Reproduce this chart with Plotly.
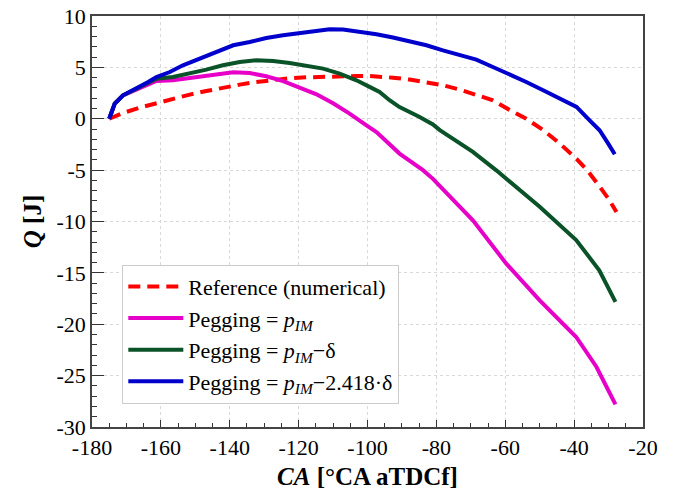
import plotly.graph_objects as go

# ---- data ----
ref_x = [-175, -171, -166.2, -161.3, -156.5, -151.6, -146.8, -142, -137.1, -132.3, -127.4, -122.6,
         -117.7, -112.9, -108.1, -103.2, -99.4, -95, -92.6, -87.8, -82.9, -78.1, -73.2, -68.4,
         -63.6, -58.7, -53.9, -49, -44.2, -39.3, -36, -32.6, -30, -27.7]
ref_y = [0, 0.56, 1.08, 1.53, 1.96, 2.35, 2.7, 3.03, 3.32, 3.58, 3.77, 3.94,
         4.03, 4.1, 4.16, 4.16, 4.16, 4.1, 4.0, 3.81, 3.58, 3.26, 2.84, 2.35,
         1.8, 0.85, 0.0, -1.1, -2.4, -3.9, -5.1, -6.6, -7.8, -9.08]

pim_x = [-175, -173.4, -171, -168.6, -166.2, -163.7, -161.3, -156.5, -151.6, -146.8, -142, -139,
         -134.2, -129.4, -124.5, -119.7, -114.8, -110, -105.2, -100.3, -97.4, -90.7, -83.9, -81,
         -69.4, -59.7, -50, -39.4, -33.5, -28]
pim_y = [0, 1.47, 2.28, 2.65, 2.95, 3.35, 3.68, 3.74, 3.97, 4.13, 4.39, 4.52,
         4.45, 4.13, 3.67, 3.03, 2.38, 1.5, 0.5, -0.64, -1.29, -3.39, -5.0, -5.85,
         -9.88, -14.1, -17.67, -21.24, -24.16, -27.8]

d1_x = [-175, -173.4, -171, -168.6, -166.2, -163.7, -161.3, -156.5, -151.6, -146.8, -142, -137.1,
        -132.3, -127.4, -122.6, -117.7, -112.9, -108.1, -103.2, -99.4, -96.5, -93.6, -90.7, -85,
        -81, -79, -73.2, -69.4, -62.6, -59.7, -50, -39.4, -35.5, -32.7, -28]
d1_y = [0, 1.47, 2.28, 2.7, 3.05, 3.5, 3.9, 4.06, 4.39, 4.78, 5.2, 5.52,
        5.69, 5.62, 5.43, 5.2, 4.88, 4.39, 3.74, 3.1, 2.6, 1.8, 1.14, 0.2,
        -0.55, -1.1, -2.42, -3.23, -5.02, -5.83, -8.56, -11.8, -13.45, -14.75, -17.83]

d2_x = [-175, -173.4, -171, -168.6, -166.2, -163.7, -161.3, -157.4, -153.6, -148.7, -143.9, -139,
        -134.2, -129.4, -124.5, -119.7, -114.8, -111, -107.1, -103.2, -99.4, -97.4, -92.6, -87.8,
        -82.9, -78.1, -73.2, -68.4, -63.6, -58.7, -53.9, -49, -44.2, -39.3, -35.5, -32.6, -30.1, -28.2]
d2_y = [0, 1.47, 2.28, 2.7, 3.09, 3.58, 4.06, 4.55, 5.2, 5.85, 6.5, 7.15,
        7.47, 7.86, 8.12, 8.35, 8.61, 8.71, 8.68, 8.5, 8.33, 8.22, 7.9, 7.54,
        7.15, 6.66, 6.24, 5.76, 5.04, 4.33, 3.58, 2.77, 1.96, 1.15, -0.15, -1.12, -2.42, -3.46]

x_ticks = [-180, -160, -140, -120, -100, -80, -60, -40, -20]
x_tick_text = ["-180", "-160", "-140", "-120", "-100", "-80", "-60", "-40", "-20"]
y_ticks = [-30, -25, -20, -15, -10, -5, 0, 5, 10]
y_tick_text = ["-30", "-25", "-20", "-15", "-10", "-5", "0", "5", "10"]

names = [
    "Reference (numerical)",
    "Pegging = <i>p</i><sub><i>IM</i></sub>",
    "Pegging = <i>p</i><sub><i>IM</i></sub>\u2212\u03b4",
    "Pegging = <i>p</i><sub><i>IM</i></sub>\u22122.418\u00b7\u03b4",
]
colors = ["#ff0000", "#e600c8", "#0a5228", "#0000cc"]

FONT = "Times New Roman"

fig = go.Figure()
fig.add_trace(go.Scatter(x=ref_x, y=ref_y, mode="lines", name=names[0],
                         line=dict(color=colors[0], width=4, dash="12px,7px")))
fig.add_trace(go.Scatter(x=pim_x, y=pim_y, mode="lines", name=names[1],
                         line=dict(color=colors[1], width=4)))
fig.add_trace(go.Scatter(x=d1_x, y=d1_y, mode="lines", name=names[2],
                         line=dict(color=colors[2], width=4)))
fig.add_trace(go.Scatter(x=d2_x, y=d2_y, mode="lines", name=names[3],
                         line=dict(color=colors[3], width=4)))

fig.update_layout(
    width=683, height=496,
    margin=dict(l=92, r=40, t=16, b=69),
    paper_bgcolor="white", plot_bgcolor="white",
    font=dict(family=FONT, size=22, color="black"),
    showlegend=True,
    legend=dict(x=0.055, y=0.395, xanchor="left", yanchor="top",
                bgcolor="white", bordercolor="#cccccc", borderwidth=1,
                font=dict(family=FONT, size=22, color="black"),
                tracegroupgap=0, itemwidth=55),
)

fig.update_xaxes(
    range=[-180, -20], tickmode="array", tickvals=x_ticks, ticktext=x_tick_text,
    ticks="inside", ticklen=7, tickwidth=1, tickcolor="#333",
    minor=dict(dtick=5, ticks="inside", ticklen=4, tickwidth=1, tickcolor="#333", showgrid=False),
    showline=True, linecolor="#444", linewidth=1.5, mirror=True,
    showgrid=True, gridcolor="#d8d8d8", griddash="dot", gridwidth=1,
    zeroline=False, automargin=False, ticklabeloverflow="allow",
    tickfont=dict(family=FONT, size=22),
    title=dict(text="<b><i>CA</i> [°CA aTDCf]</b>", font=dict(family=FONT, size=25), standoff=8),
)
fig.update_yaxes(
    range=[-30, 10], tickmode="array", tickvals=y_ticks, ticktext=y_tick_text,
    ticks="inside", ticklen=12, tickwidth=1, tickcolor="#333",
    minor=dict(dtick=1, ticks="inside", ticklen=5, tickwidth=1, tickcolor="#333", showgrid=False),
    showline=True, linecolor="#444", linewidth=1.5, mirror=True,
    showgrid=True, gridcolor="#d8d8d8", griddash="dot", gridwidth=1,
    zeroline=False, automargin=False, ticklabeloverflow="allow",
    tickfont=dict(family=FONT, size=22),
    title=dict(text="<b><i>Q</i> [J]</b>", font=dict(family=FONT, size=25), standoff=8),
)

fig.write_html("out.html", config={"displayModeBar": False},
               post_script="document.body.style.margin='0';")
